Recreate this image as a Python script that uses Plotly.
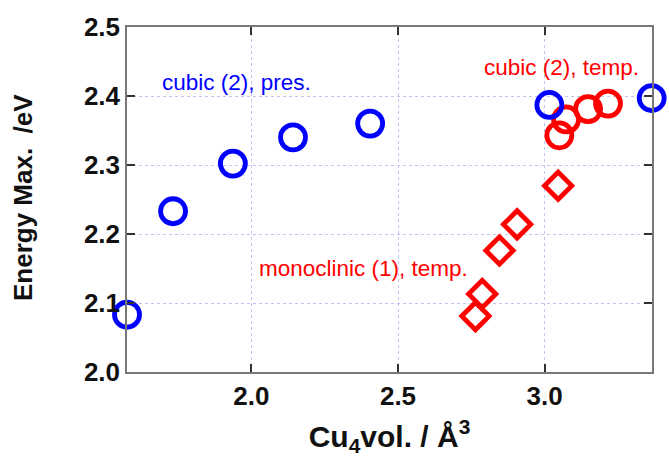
import plotly.graph_objects as go

# Data
cubic_pres_x = [1.576, 1.733, 1.937, 2.142, 2.405, 3.016, 3.365]
cubic_pres_y = [2.083, 2.233, 2.302, 2.340, 2.360, 2.387, 2.397]

cubic_temp_x = [3.050, 3.073, 3.148, 3.216, 3.368]
cubic_temp_y = [2.343, 2.366, 2.381, 2.389, 2.399]

mono_temp_x = [2.764, 2.787, 2.846, 2.906, 3.046]
mono_temp_y = [2.081, 2.113, 2.176, 2.214, 2.270]

x_ticks = [2.0, 2.5, 3.0]
x_tick_labels = ["2.0", "2.5", "3.0"]
y_ticks = [2.0, 2.1, 2.2, 2.3, 2.4, 2.5]
y_tick_labels = ["2.0", "2.1", "2.2", "2.3", "2.4", "2.5"]

BLUE = "#0000ff"
RED = "#ff0000"
FONT = "Liberation Sans, Arial, sans-serif"

L, R, T, B = 127, 17, 21, 93
PW, PH = 669 - L - R, 465 - T - B


def px(xpix):
    return (xpix - L) / PW


def py(ypix):
    return (465 - B - ypix) / PH


fig = go.Figure()
fig.add_trace(go.Scatter(
    x=mono_temp_x, y=mono_temp_y, mode="markers", cliponaxis=False,
    marker=dict(symbol="diamond-open", size=21, color=RED, line=dict(color=RED, width=4.8)),
    showlegend=False))
fig.add_trace(go.Scatter(
    x=cubic_temp_x, y=cubic_temp_y, mode="markers", cliponaxis=False,
    marker=dict(symbol="circle-open", size=25, color=RED, line=dict(color=RED, width=4.8)),
    showlegend=False))
fig.add_trace(go.Scatter(
    x=cubic_pres_x, y=cubic_pres_y, mode="markers", cliponaxis=False,
    marker=dict(symbol="circle-open", size=25, color=BLUE, line=dict(color=BLUE, width=4.8)),
    showlegend=False))

fig.add_annotation(x=px(236), y=py(77), xref="paper", yref="paper",
                   text="cubic (2), pres.", showarrow=False,
                   xanchor="center", yanchor="middle",
                   font=dict(family=FONT, size=22.5, color=BLUE))
fig.add_annotation(x=px(561), y=py(62), xref="paper", yref="paper",
                   text="cubic (2), temp.", showarrow=False,
                   xanchor="center", yanchor="middle",
                   font=dict(family=FONT, size=22.5, color=RED))
fig.add_annotation(x=px(363), y=py(267), xref="paper", yref="paper",
                   text="monoclinic (1), temp.", showarrow=False,
                   xanchor="center", yanchor="middle",
                   font=dict(family=FONT, size=22.5, color=RED))
fig.add_annotation(x=px(23), y=py(195), xref="paper", yref="paper",
                   text="Energy Max.&nbsp; /eV", showarrow=False, textangle=-90,
                   xanchor="center", yanchor="middle",
                   font=dict(family=FONT, size=26, color="#111111", weight="bold"))

fig.update_layout(
    width=669, height=465,
    margin=dict(l=L, r=R, t=T, b=B),
    paper_bgcolor="white", plot_bgcolor="white",
    font=dict(family=FONT, color="#111111"),
)

common = dict(
    ticks="inside", ticklen=8, tickwidth=1.5, tickcolor="#333333",
    showline=True, linecolor="#777777", linewidth=1.5, mirror="ticks",
    showgrid=True, gridcolor="#c4c4f4", griddash="dot", gridwidth=1,
    zeroline=False,
    tickfont=dict(size=26, family=FONT, color="#111111", weight="bold"),
)

fig.update_xaxes(
    range=[1.576, 3.366], tickvals=x_ticks, ticktext=x_tick_labels,
    title=dict(text="Cu<sub>4</sub>vol. / Å<sup>3</sup>", standoff=16,
               font=dict(size=30, color="#111111", family=FONT, weight="bold")),
    **common,
)
fig.update_yaxes(
    range=[2.0, 2.5], tickvals=y_ticks, ticktext=y_tick_labels,
    **common,
)

fig.write_html("out.html")
